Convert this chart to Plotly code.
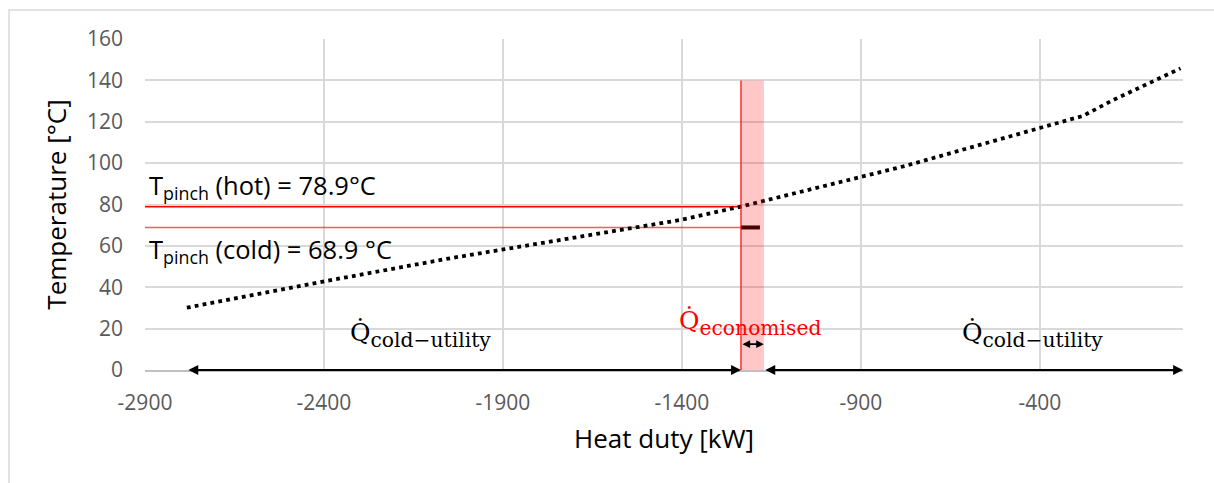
import plotly.graph_objects as go

# Composite curve (heat duty in kW, temperature in °C)
duty_kw = [-2783, -2420, -2048, -1629, -1405, -1235, -777, -400, -280, -195, -111, -7]
temp_c = [30.1, 42.2, 54.0, 66.0, 72.5, 79.0, 98.6, 117.0, 122.8, 130.5, 137.5, 145.8]

# Pinch temperatures and the economised duty window
t_pinch_hot = 78.9
t_pinch_cold = 68.9
q_econ_start = -1235
q_econ_end = -1171
q_cold_short_end = -1182
band_top = 140

# Extent of the duty arrows
q_min = -2783
q_max = 0

x_ticks = [-2900, -2400, -1900, -1400, -900, -400]
y_ticks = [0, 20, 40, 60, 80, 100, 120, 140, 160]

SANS = "Open Sans"
SERIF = "DejaVu Serif"
GRID = "#d9d9d9"

fig = go.Figure()

# Pinch temperature lines up to the pinch point
fig.add_trace(go.Scatter(x=[-2900, q_econ_start], y=[t_pinch_hot, t_pinch_hot],
                         mode="lines", line=dict(color="#ff0000", width=1.5),
                         hoverinfo="skip", showlegend=False))
fig.add_trace(go.Scatter(x=[-2900, q_econ_start], y=[t_pinch_cold, t_pinch_cold],
                         mode="lines", line=dict(color="rgba(235,40,40,0.75)", width=1.5),
                         hoverinfo="skip", showlegend=False))

# Dotted composite curve
fig.add_trace(go.Scatter(x=duty_kw, y=temp_c, mode="lines",
                         line=dict(color="black", width=3.8, dash="3.8px,4.2px"),
                         showlegend=False))

# Short cold segment at the cold pinch temperature
fig.add_trace(go.Scatter(x=[q_econ_start, q_cold_short_end], y=[t_pinch_cold, t_pinch_cold],
                         mode="lines", line=dict(color="#1a0000", width=4),
                         showlegend=False))

shapes = [
    # economised band
    dict(type="rect", xref="x", yref="y", x0=q_econ_start, x1=q_econ_end, y0=0, y1=band_top,
         fillcolor="rgba(255,0,0,0.22)", line=dict(width=0), layer="above"),
    dict(type="line", xref="x", yref="y", x0=q_econ_start, x1=q_econ_start, y0=0, y1=band_top,
         line=dict(color="#ff0000", width=1.2), layer="above"),
    # chart frame
    dict(type="rect", xref="paper", yref="paper", x0=-0.131, x1=1.2, y0=-0.6, y1=1.0876,
         line=dict(color=GRID, width=1.5), fillcolor="rgba(0,0,0,0)", layer="below"),
]

def duty_arrow(x0, x1, y, size):
    return dict(x=x1, y=y, ax=x0, ay=y, xref="x", yref="y", axref="x", ayref="y",
                text="", showarrow=True, arrowhead=2, startarrowhead=2,
                arrowside="end+start", arrowsize=size, startarrowsize=size,
                arrowwidth=1.8, arrowcolor="black", standoff=0, startstandoff=0)

annotations = [
    duty_arrow(q_min, q_econ_start, 0, 1.1),
    duty_arrow(q_econ_start, q_econ_end, 12.5, 0.85),
    duty_arrow(q_econ_end, q_max, 0, 1.1),
    dict(x=-2900, y=t_pinch_hot, xref="x", yref="y", xanchor="left", yanchor="bottom",
         text=f"T<sub>pinch</sub> (hot) = {t_pinch_hot}°C", showarrow=False, xshift=2, yshift=0,
         font=dict(family=SANS, size=25.5, color="black")),
    dict(x=-2900, y=t_pinch_cold, xref="x", yref="y", xanchor="left", yanchor="top",
         text=f"T<sub>pinch</sub> (cold) = {t_pinch_cold} °C", showarrow=False, xshift=2, yshift=-3,
         font=dict(family=SANS, size=25.5, color="black")),
    dict(x=-2130, y=17, xref="x", yref="y", xanchor="center", yanchor="middle",
         text="<span style='font-size:25px'>Q̇</span><sub>cold−utility</sub>", showarrow=False,
         font=dict(family=SERIF, size=29, color="black")),
    dict(x=-1210, y=22.5, xref="x", yref="y", xanchor="center", yanchor="middle",
         text="<span style='font-size:25px'>Q̇</span><sub>economised</sub>", showarrow=False,
         font=dict(family=SERIF, size=29, color="#ff0000")),
    dict(x=-420, y=17, xref="x", yref="y", xanchor="center", yanchor="middle",
         text="<span style='font-size:25px'>Q̇</span><sub>cold−utility</sub>", showarrow=False,
         font=dict(family=SERIF, size=29, color="black")),
]

fig.update_layout(
    width=1214, height=483,
    margin=dict(l=145, r=31, t=39, b=113),
    paper_bgcolor="white", plot_bgcolor="white",
    shapes=shapes, annotations=annotations,
    xaxis=dict(range=[-2900, 0], tickvals=x_ticks, ticktext=[str(v) for v in x_ticks],
               showgrid=True, gridcolor=GRID, gridwidth=1.5, zeroline=False,
               showline=True, linecolor="#bfbfbf", linewidth=1.5,
               tickfont=dict(family=SANS, size=21, color="#595959"),
               ticklabelstandoff=13,
               title=dict(text="Heat duty [kW]", font=dict(family=SANS, size=26, color="black"),
                          standoff=15)),
    yaxis=dict(range=[0, 160], tickvals=y_ticks, showgrid=True, gridcolor=GRID, gridwidth=1.5,
               zeroline=False, showline=False,
               tickfont=dict(family=SANS, size=21, color="#595959"),
               ticklabelstandoff=21,
               title=dict(text="Temperature [°C]", font=dict(family=SANS, size=26, color="black"),
                          standoff=12)),
)

fig.write_html("out.html")
